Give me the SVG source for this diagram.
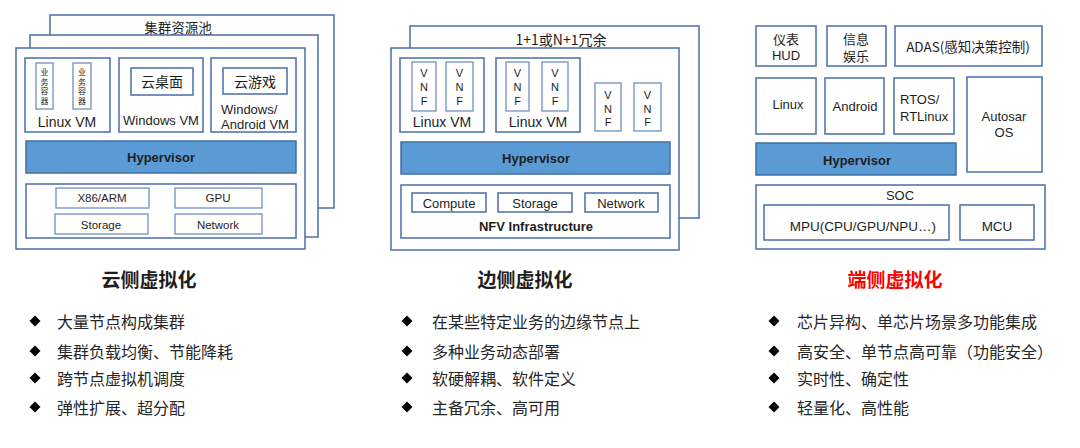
<svg xmlns="http://www.w3.org/2000/svg" width="1080" height="448" viewBox="0 0 1080 448">
<style>
.bg{fill:#fff}
.frame{fill:#fff;stroke:#4a6ea8;stroke-width:1.5}
.box{fill:#fff;stroke:#4a6ea8;stroke-width:1.5}
.ibox{fill:#fff;stroke:#6f8fc4;stroke-width:1.3}
.hyp{fill:#5b9bd5;stroke:#3f6fa3;stroke-width:1.5}
text{font-family:"Liberation Sans","Noto Sans CJK SC",sans-serif;fill:#1e1e1e;text-anchor:middle;dominant-baseline:central}
.t14{font-size:14px}
.t135{font-size:13.5px}
.t13{font-size:13px}
.t12{font-size:12px}
.t115{font-size:11.5px}
.t11{font-size:11px}
.t8{font-size:8px}
.b{font-weight:bold}
.l{text-anchor:start}
.title{font-size:19px;font-weight:bold;font-family:"Noto Sans CJK SC","Liberation Sans",sans-serif}
.bul{font-size:16px;text-anchor:start;fill:#262626;font-family:"Noto Sans CJK SC","Liberation Sans",sans-serif}
.cj{font-family:"Noto Sans CJK SC","Liberation Sans",sans-serif}
.dia{fill:#000}
</style>
<defs>
<path id="dm" d="M0,-5.5 L5.5,0 L0,5.5 L-5.5,0 Z"/>
</defs>
<rect class="bg" width="1080" height="448"/>

<!-- Cloud panel -->
<g id="cloud-layer-back">
<rect class="frame" x="50" y="15" width="284" height="193"/>
<text class="t135 cj" x="178" y="27">集群资源池</text>
</g>
<g id="cloud-layer-mid"><rect class="frame" x="30" y="35" width="288" height="202"/></g>
<g id="cloud-front"><rect class="frame" x="16" y="48" width="289" height="201"/></g>
<g id="cloud-linux-vm">
<rect class="box" x="25" y="58" width="85" height="74"/>
<rect class="ibox" x="36" y="63" width="17" height="46"/>
<text class="t8 cj" x="44.5" y="71.5">业</text><text class="t8 cj" x="44.5" y="81">务</text><text class="t8 cj" x="44.5" y="90.5">容</text><text class="t8 cj" x="44.5" y="100">器</text>
<rect class="ibox" x="73" y="63" width="18" height="46"/>
<text class="t8 cj" x="82" y="71.5">业</text><text class="t8 cj" x="82" y="81">务</text><text class="t8 cj" x="82" y="90.5">容</text><text class="t8 cj" x="82" y="100">器</text>
<text class="t14" x="67" y="122">Linux VM</text>
</g>
<g id="cloud-windows-vm">
<rect class="box" x="119" y="58" width="84" height="74"/>
<rect class="box" x="131" y="68" width="62" height="27"/>
<text class="t14 cj" x="162" y="81">云桌面</text>
<text class="t13" x="161" y="120">Windows VM</text>
</g>
<g id="cloud-android-vm">
<rect class="box" x="211" y="58" width="85" height="74"/>
<rect class="box" x="223" y="68" width="64" height="26"/>
<text class="t14 cj" x="255" y="81">云游戏</text>
<text class="t13 l" x="221" y="109">Windows/</text>
<text class="t13 l" x="221" y="124">Android VM</text>
</g>
<g id="cloud-hypervisor">
<rect class="hyp" x="26" y="141" width="270" height="32"/>
<text class="t13 b" x="161" y="157">Hypervisor</text>
</g>
<g id="cloud-hardware">
<rect class="box" x="26" y="184" width="270" height="54"/>
<rect class="ibox" x="56" y="188" width="93" height="20"/><text class="t115" x="102" y="198">X86/ARM</text>
<rect class="ibox" x="175" y="188" width="87" height="20"/><text class="t115" x="218" y="198">GPU</text>
<rect class="ibox" x="55" y="214" width="93" height="20"/><text class="t115" x="101" y="225">Storage</text>
<rect class="ibox" x="175" y="214" width="87" height="20"/><text class="t115" x="218" y="225">Network</text>
</g>

<!-- Edge panel -->
<g id="edge-layer-back">
<rect class="frame" x="410" y="26" width="289" height="192"/>
<text class="t14 cj" x="561" y="39">1+1或N+1冗余</text>
</g>
<g id="edge-front"><rect class="frame" x="391" y="48" width="288" height="202"/></g>
<g id="edge-vm1">
<rect class="box" x="400" y="58" width="84" height="74"/>
<rect class="ibox" x="412" y="62" width="24" height="49"/>
<text class="t11" x="424" y="73">V</text><text class="t11" x="424" y="87">N</text><text class="t11" x="424" y="101">F</text>
<rect class="ibox" x="446" y="62" width="27" height="49"/>
<text class="t11" x="459.5" y="73">V</text><text class="t11" x="459.5" y="87">N</text><text class="t11" x="459.5" y="101">F</text>
<text class="t14" x="442" y="122">Linux VM</text>
</g>
<g id="edge-vm2">
<rect class="box" x="496" y="58" width="84" height="74"/>
<rect class="ibox" x="506" y="62" width="23" height="49"/>
<text class="t11" x="517.5" y="73">V</text><text class="t11" x="517.5" y="87">N</text><text class="t11" x="517.5" y="101">F</text>
<rect class="ibox" x="542" y="62" width="26" height="49"/>
<text class="t11" x="555" y="73">V</text><text class="t11" x="555" y="87">N</text><text class="t11" x="555" y="101">F</text>
<text class="t14" x="538" y="122">Linux VM</text>
</g>
<g id="edge-vnf-a">
<rect class="ibox" x="595" y="83" width="26" height="48"/>
<text class="t11" x="608" y="95">V</text><text class="t11" x="608" y="109">N</text><text class="t11" x="608" y="122">F</text>
</g>
<g id="edge-vnf-b">
<rect class="ibox" x="634" y="83" width="27" height="48"/>
<text class="t11" x="647.5" y="95">V</text><text class="t11" x="647.5" y="109">N</text><text class="t11" x="647.5" y="122">F</text>
</g>
<g id="edge-hypervisor">
<rect class="hyp" x="401" y="142" width="269" height="32"/>
<text class="t13 b" x="536" y="158">Hypervisor</text>
</g>
<g id="edge-nfvi">
<rect class="box" x="401" y="185" width="269" height="53"/>
<rect class="box" x="412" y="193" width="74" height="19"/><text class="t13" x="449" y="203">Compute</text>
<rect class="box" x="498" y="193" width="74" height="19"/><text class="t13" x="535" y="203">Storage</text>
<rect class="box" x="585" y="193" width="73" height="19"/><text class="t13" x="621" y="203">Network</text>
<text class="t13 b" x="536" y="226">NFV Infrastructure</text>
</g>

<!-- Device panel -->
<g id="dev-hud">
<rect class="box" x="756" y="26" width="60" height="40"/>
<text class="t13 cj" x="786" y="38">仪表</text><text class="t13" x="786" y="55">HUD</text>
</g>
<g id="dev-info">
<rect class="box" x="827" y="26" width="59" height="40"/>
<text class="t13 cj" x="856" y="38">信息</text><text class="t13 cj" x="856" y="55">娱乐</text>
</g>
<g id="dev-adas">
<rect class="box" x="895" y="26" width="147" height="40"/>
<text class="t135 cj" x="968" y="46">ADAS(感知决策控制)</text>
</g>
<g id="dev-linux">
<rect class="box" x="756" y="78" width="60" height="56"/>
<text class="t13" x="788" y="104">Linux</text>
</g>
<g id="dev-android">
<rect class="box" x="825" y="78" width="59" height="56"/>
<text class="t13" x="855" y="106">Android</text>
</g>
<g id="dev-rtos">
<rect class="box" x="894" y="78" width="60" height="56"/>
<text class="t13 l" x="900" y="99">RTOS/</text><text class="t13 l" x="900" y="116">RTLinux</text>
</g>
<g id="dev-autosar">
<rect class="box" x="967" y="77" width="75" height="95"/>
<text class="t13" x="1004" y="116">Autosar</text><text class="t13" x="1004" y="132">OS</text>
</g>
<g id="dev-hypervisor">
<rect class="hyp" x="756" y="143" width="200" height="32"/>
<text class="t13 b" x="857" y="160">Hypervisor</text>
</g>
<g id="dev-soc">
<rect class="box" x="756" y="185" width="289" height="64"/>
<text class="t13" x="900" y="195">SOC</text>
<rect class="box" x="764" y="205" width="185" height="35"/><text class="t135" x="863" y="226">MPU(CPU/GPU/NPU…)</text>
<rect class="box" x="960" y="205" width="74" height="35"/><text class="t135" x="997" y="226">MCU</text>
</g>

<g id="connectors"></g>

<!-- Titles -->
<g id="title-cloud"><text class="title" x="149" y="278">云侧虚拟化</text></g>
<g id="title-edge"><text class="title" x="525" y="278">边侧虚拟化</text></g>
<g id="title-device"><text class="title" x="895" y="278" style="fill:#ff0000">端侧虚拟化</text></g>

<!-- Bullets -->
<g id="bullets-cloud">
<use href="#dm" class="dia" x="35" y="321"/><text class="bul" x="57" y="321">大量节点构成集群</text>
<use href="#dm" class="dia" x="35" y="351"/><text class="bul" x="57" y="351">集群负载均衡、节能降耗</text>
<use href="#dm" class="dia" x="35" y="378"/><text class="bul" x="57" y="378">跨节点虚拟机调度</text>
<use href="#dm" class="dia" x="35" y="407"/><text class="bul" x="57" y="407">弹性扩展、超分配</text>
</g>
<g id="bullets-edge">
<use href="#dm" class="dia" x="407" y="321"/><text class="bul" x="432" y="321">在某些特定业务的边缘节点上</text>
<use href="#dm" class="dia" x="407" y="351"/><text class="bul" x="432" y="351">多种业务动态部署</text>
<use href="#dm" class="dia" x="407" y="378"/><text class="bul" x="432" y="378">软硬解耦、软件定义</text>
<use href="#dm" class="dia" x="407" y="407"/><text class="bul" x="432" y="407">主备冗余、高可用</text>
</g>
<g id="bullets-device">
<use href="#dm" class="dia" x="774" y="321"/><text class="bul" x="797" y="321">芯片异构、单芯片场景多功能集成</text>
<use href="#dm" class="dia" x="774" y="351"/><text class="bul" x="797" y="351">高安全、单节点高可靠（功能安全）</text>
<use href="#dm" class="dia" x="774" y="378"/><text class="bul" x="797" y="378">实时性、确定性</text>
<use href="#dm" class="dia" x="774" y="407"/><text class="bul" x="797" y="407">轻量化、高性能</text>
</g>
</svg>
